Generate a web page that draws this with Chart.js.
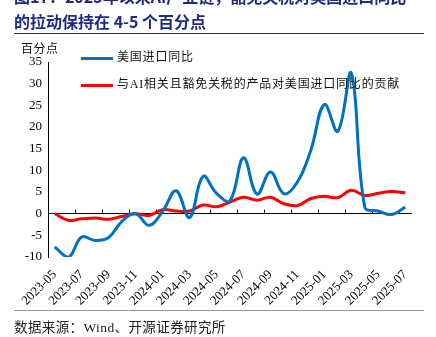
<!DOCTYPE html>
<html>
<head>
<meta charset="utf-8">
<script src="https://cdn.jsdelivr.net/npm/chart.js@4/dist/chart.umd.min.js"></script>
<style>
  html, body { margin: 0; padding: 0; background: #fff; }
  body { width: 436px; height: 337px; position: relative; overflow: hidden; }
  #chart { position: absolute; left: 0; top: 0; }
  .title {
    position: absolute; left: 14px; white-space: nowrap;
    font: bold 16px "Noto Sans CJK SC", sans-serif; color: #1f2a84;
  }
  .rule { position: absolute; left: 14px; width: 410px; height: 1px; }
  .unit { position: absolute; left: 21px; top: 39px; font: 12px "Noto Sans CJK SC", sans-serif; color: #111; letter-spacing: 0.5px; }
  .legend { position: absolute; left: 81px; font: 12px "Liberation Serif", "Noto Sans CJK SC", serif; color: #111; letter-spacing: 0.8px; }
  .legend span.swatch { display: inline-block; width: 32px; height: 3px; vertical-align: middle; margin-right: 4px; }
  .source { position: absolute; left: 14px; top: 316px; font: 13.5px "Liberation Serif", "Noto Sans CJK SC", serif; color: #222; letter-spacing: 0.4px; }
</style>
</head>
<body>
<canvas id="chart" width="436" height="337"></canvas>
<div class="title" style="top:-16px;">图17：2025年以来AI产业链，豁免关税对美国进口同比</div>
<div class="title" style="top:9px;">的拉动保持在 4-5 个百分点</div>
<div class="rule" style="top:33px; background:#333;"></div>
<div class="unit">百分点</div>
<div id="legend"></div>
<div class="rule" style="top:310px; background:#999;"></div>
<div class="source">数据来源：Wind、开源证券研究所</div>

<script>
// ===== DATA =====
const months = [
    '2023-05', '2023-06', '2023-07', '2023-08', '2023-09', '2023-10', '2023-11', '2023-12',
    '2024-01', '2024-02', '2024-03', '2024-04', '2024-05', '2024-06', '2024-07', '2024-08',
    '2024-09', '2024-10', '2024-11', '2024-12', '2025-01', '2025-02', '2025-03', '2025-04',
    '2025-05', '2025-06', '2025-07'
];
const importYoY = [
    -7.7, -10.1, -5.4, -6.2, -5.5, -1.7, 0.0, -2.7,
    0.5, 5.3, -0.9, 8.6, 4.7, 3.0, 12.9, 4.5,
    9.6, 4.6, 7.3, 14.7, 25.2, 19.0, 32.4, 1.5,
    0.6, -0.2, 1.5
];
const aiContribution = [
    0.0, -1.5, -1.2, -1.0, -1.3, -0.6, 0.0, -0.4,
    0.9, 0.6, 0.6, 2.0, 1.6, 2.7, 3.8, 3.1,
    3.8, 2.3, 1.9, 3.5, 4.0, 3.7, 5.4, 4.2,
    4.7, 5.1, 4.8
];
const seriesNames = ['美国进口同比', '与AI相关且豁免关税的产品对美国进口同比的贡献'];
const seriesColors = ['#0070c0', '#ff0000'];
const yTicks = { min: -10, max: 35, step: 5 };

// ===== LEGEND (html) =====
const legendTops = [47, 74];
document.getElementById('legend').innerHTML = seriesNames.map((name, i) =>
    `<div class="legend" style="top:${legendTops[i]}px"><span class="swatch" style="background:${seriesColors[i]}"></span>${name}</div>`
).join('');

// x-axis tick marks sit on the zero line, one between every pair of months
const zeroAxisTicks = {
    id: 'zeroAxisTicks',
    beforeDatasetsDraw(chart) {
        const { ctx, scales: { x, y } } = chart;
        const y0 = y.getPixelForValue(0);
        ctx.save();
        ctx.strokeStyle = '#000';
        ctx.lineWidth = 1;
        ctx.beginPath();
        for (let k = 1; k + 1 < months.length; k += 2) {
            const px = Math.round((x.getPixelForValue(k) + x.getPixelForValue(k + 1)) / 2);
            ctx.moveTo(px + 0.5, y0);
            ctx.lineTo(px + 0.5, y0 - 4);
        }
        ctx.stroke();
        ctx.restore();
    }
};

new Chart(document.getElementById('chart'), {
    type: 'line',
    data: {
        labels: months,
        datasets: [
            { label: seriesNames[0], data: importYoY, borderColor: seriesColors[0] },
            { label: seriesNames[1], data: aiContribution, borderColor: seriesColors[1] }
        ].map(ds => Object.assign(ds, {
            borderWidth: 3,
            pointRadius: 0,
            tension: 0.4,
            fill: false
        }))
    },
    options: {
        responsive: false,
        animation: false,
        layout: { padding: { top: 62, right: 24, bottom: 0, left: 0 } },
        plugins: { legend: { display: false }, tooltip: { enabled: false } },
        scales: {
            x: {
                offset: true,
                grid: { display: false, offset: true },
                border: { display: false },
                afterFit: s => { s.height = 80; },
                ticks: {
                    autoSkip: false,
                    maxRotation: 45,
                    minRotation: 45,
                    padding: 2,
                    color: '#000',
                    font: { family: 'Liberation Serif', size: 13 },
                    callback: (v, i) => i % 2 === 0 ? months[i] : ''
                }
            },
            y: {
                min: yTicks.min,
                max: yTicks.max,
                afterFit: s => { s.width = 48; },
                border: { display: true, color: '#000', width: 1 },
                grid: {
                    drawTicks: false,
                    color: c => c.tick && c.tick.value === 0 ? '#000' : 'rgba(0,0,0,0)'
                },
                ticks: {
                    stepSize: yTicks.step,
                    padding: 6,
                    color: '#000',
                    font: { family: 'Liberation Serif', size: 13 }
                }
            }
        }
    },
    plugins: [zeroAxisTicks]
});
</script>
</body>
</html>
